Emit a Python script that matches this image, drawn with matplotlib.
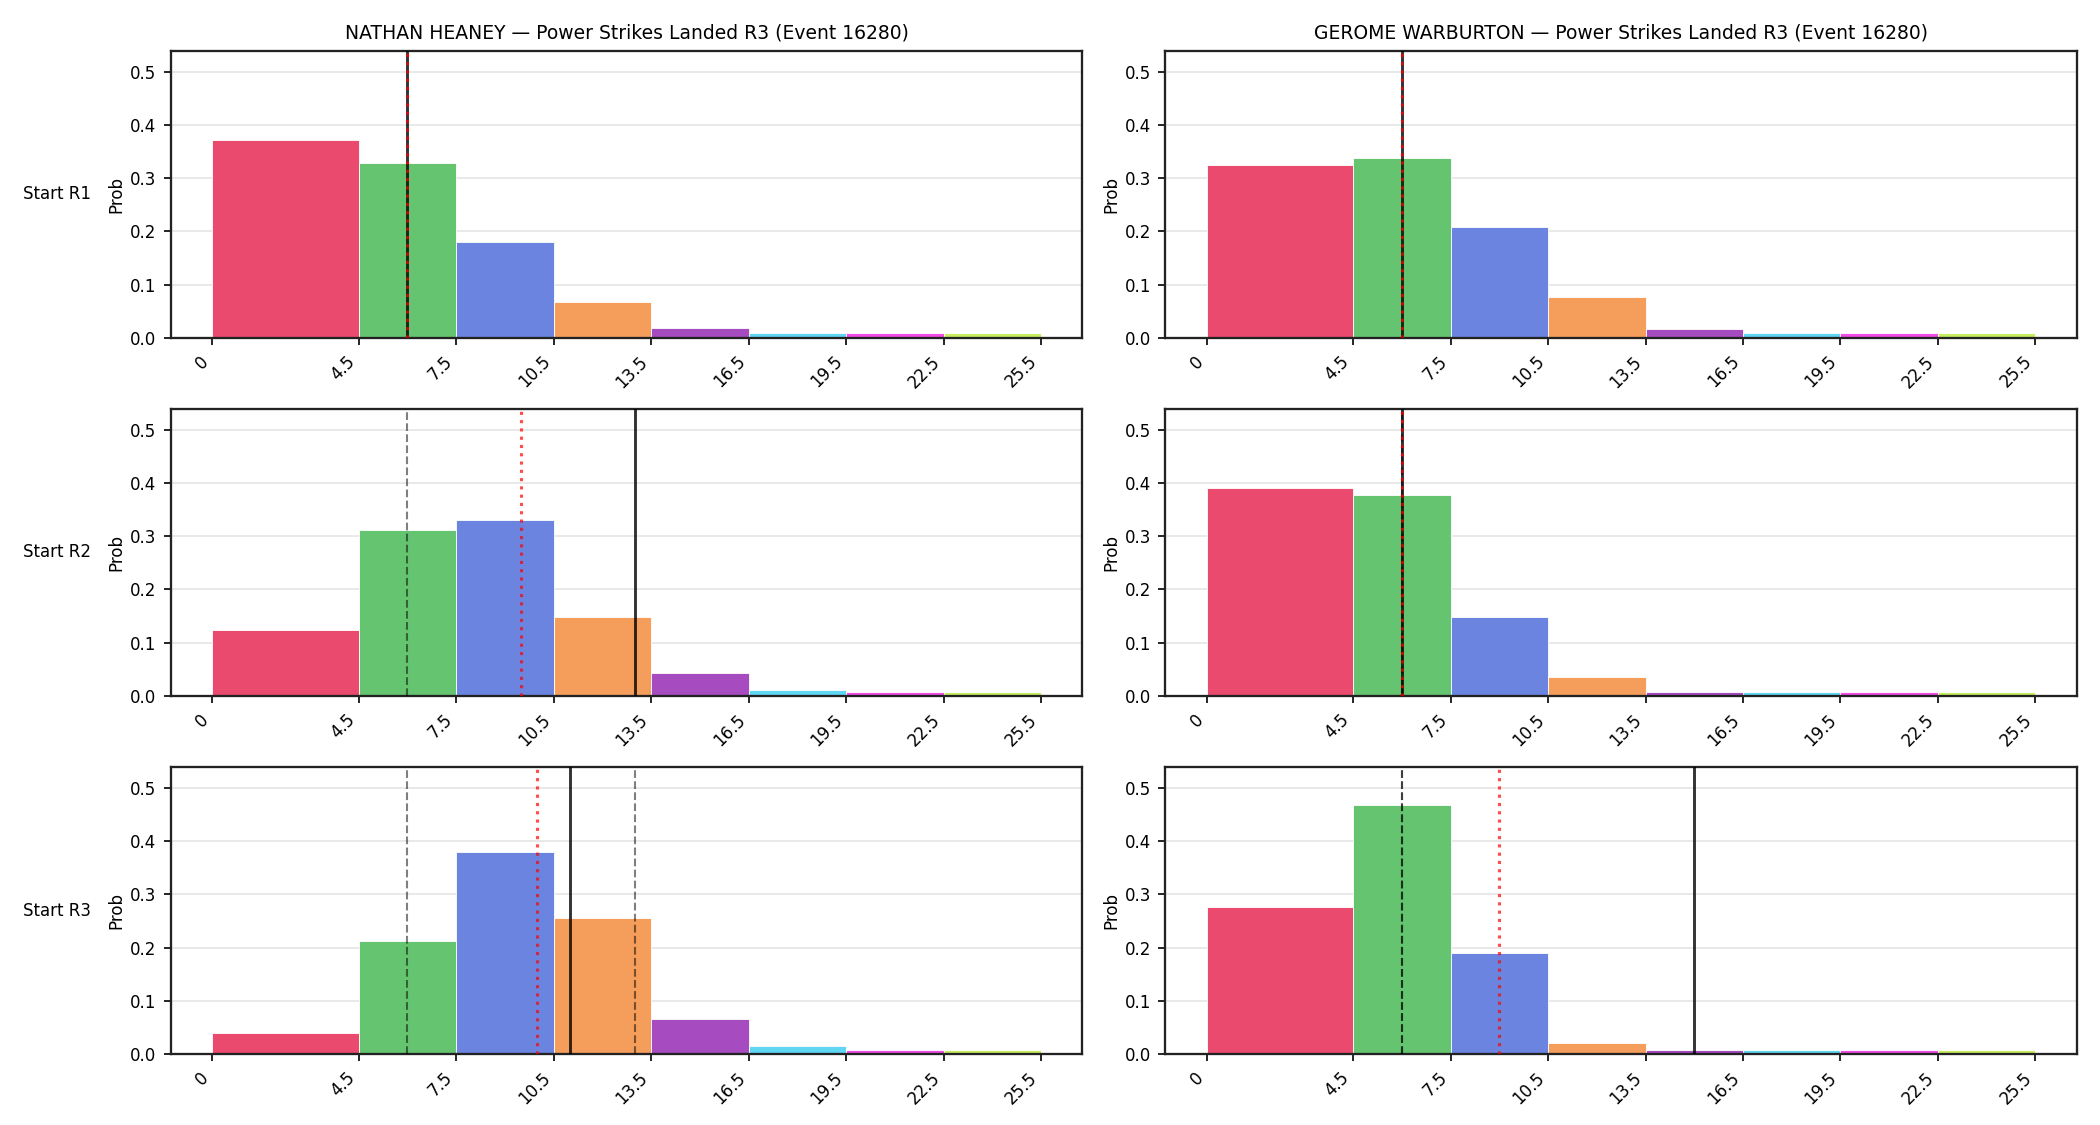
import numpy as np
import matplotlib.pyplot as plt

# bin edges and labels
edges = [0, 4.5, 7.5, 10.5, 13.5, 16.5, 19.5, 22.5, 25.5]
edge_labels = ['0', '4.5', '7.5', '10.5', '13.5', '16.5', '19.5', '22.5', '25.5']
bin_colors = ['#EA4A6E', '#65C46F', '#6B84DF', '#F59D5B',
              '#A64BC0', '#5FD7F2', '#F14CE6', '#C6EE5F']

fighters = ['NATHAN HEANEY', 'GEROME WARBURTON']
rows = ['Start R1', 'Start R2', 'Start R3']

# probabilities per bin, one list per starting round
heaney_probs = [
    [0.371, 0.328, 0.180, 0.0675, 0.019, 0.0095, 0.0095, 0.0095],
    [0.123, 0.311, 0.330, 0.149, 0.0426, 0.011, 0.008, 0.008],
    [0.0395, 0.213, 0.380, 0.256, 0.066, 0.015, 0.008, 0.008],
]
warburton_probs = [
    [0.324, 0.3375, 0.208, 0.077, 0.017, 0.0095, 0.0095, 0.0095],
    [0.390, 0.377, 0.149, 0.035, 0.008, 0.008, 0.008, 0.008],
    [0.277, 0.4686, 0.190, 0.021, 0.008, 0.008, 0.008, 0.008],
]

# reference lines per panel
heaney_prev = [[], [6.0], [6.0, 13.0]]
heaney_mean = [6.0, 9.5, 10.0]
heaney_line = [6.0, 13.0, 11.0]
warburton_prev = [[], [6.0], [6.0, 6.0]]
warburton_mean = [6.0, 6.0, 9.0]
warburton_line = [6.0, 6.0, 15.0]

probs = [heaney_probs, warburton_probs]
prev_lines = [heaney_prev, warburton_prev]
mean_lines = [heaney_mean, warburton_mean]
solid_lines = [heaney_line, warburton_line]

ymax = 1.15 * max(max(max(r) for r in p) for p in probs)

fig, axes = plt.subplots(3, 2, figsize=(14, 7.5), dpi=150)
plt.subplots_adjust(left=0.0814, right=0.989, top=0.9547, bottom=0.0631,
                    wspace=0.091, hspace=0.248)

lefts = np.array(edges[:-1])
widths = np.diff(edges)

for c in range(2):
    for r in range(3):
        ax = axes[r, c]
        ax.bar(lefts, probs[c][r], width=widths, align='edge',
               color=bin_colors, edgecolor='white', linewidth=0.4, zorder=2)
        for v in prev_lines[c][r]:
            ax.axvline(v, color='black', alpha=0.5, linestyle='--', linewidth=1.0, zorder=3)
        ax.axvline(solid_lines[c][r], color='black', alpha=0.8, linewidth=1.4, zorder=3)
        ax.axvline(mean_lines[c][r], color='red', alpha=0.7, linestyle=':', linewidth=1.5, zorder=4)
        ax.set_ylim(0, ymax)
        ax.set_xticks(edges)
        ax.set_xticklabels(edge_labels, rotation=45, ha='right', fontsize=8)
        ax.set_yticks([0, 0.1, 0.2, 0.3, 0.4, 0.5])
        ax.set_yticklabels(['0.0', '0.1', '0.2', '0.3', '0.4', '0.5'], fontsize=8)
        ax.set_ylabel('Prob', fontsize=8, labelpad=2)
        ax.grid(axis='y', color='#e5e5e5', linewidth=0.8, zorder=0)
        ax.set_axisbelow(True)
        for s in ax.spines.values():
            s.set_linewidth(1.1)
            s.set_color('#222222')
        if r == 0:
            ax.set_title(f'{fighters[c]} — Power Strikes Landed R3 (Event 16280)', fontsize=9)

for r in range(3):
    pos = axes[r, 0].get_position()
    fig.text(23 / 2100, (pos.y0 + pos.y1) / 2, rows[r], ha='left', va='center', fontsize=8)

plt.savefig('out.png', dpi=150)
